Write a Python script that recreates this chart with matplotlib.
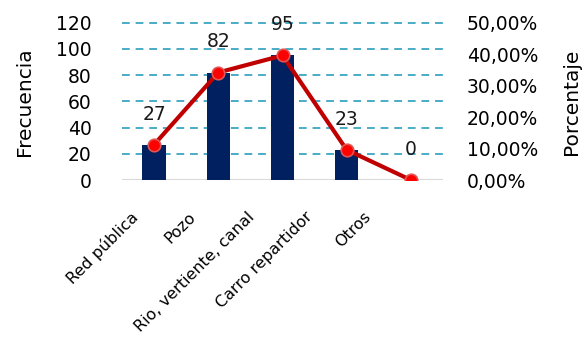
import matplotlib.pyplot as plt
import matplotlib.transforms as mtransforms
import numpy as np

categorias = ["Red pública", "Pozo", "Rio, vertiente, canal", "Carro repartidor", "Otros"]
frecuencia = [27, 82, 95, 23, 0]
porcentaje = [11.25, 34.17, 39.58, 9.58, 0.00]
ticks_frec = [0, 20, 40, 60, 80, 100, 120]
ticks_pct = [0, 10, 20, 30, 40, 50]

plt.rcParams["font.family"] = "DejaVu Sans"

fig = plt.figure(figsize=(5.85, 3.39), dpi=100)
ax = fig.add_axes([122 / 585, 1 - 180 / 339, (443 - 122) / 585, (180 - 22.7) / 339])
ax2 = ax.twinx()

x = np.arange(len(categorias))

# grid lines behind the bars
for t in ticks_frec[1:]:
    ax.axhline(t, color="#4BACC6", linestyle=(0, (4, 3)), linewidth=1.4, zorder=0,
               clip_on=False)
ax.axhline(0, color="#D9D9D9", linewidth=1.5, zorder=1)

ax.bar(x, frecuencia, width=0.365, color="#002060", zorder=2)
for xi, v in zip(x, frecuencia):
    ax.annotate(f"{v}", xy=(xi, v), xytext=(0, 22), textcoords="offset points",
                ha="center", va="center", fontsize=13.5, color="#1a1a1a")

ax2.plot(x, porcentaje, color="#C00000", linewidth=3, marker="o", markersize=9,
         markerfacecolor="#FF0000", markeredgecolor="#E05555", markeredgewidth=1.2,
         zorder=3)

ax.set_xlim(-0.5, 4.5)
ax.set_ylim(0, 120)
ax2.set_ylim(0, 50)
ax.set_yticks(ticks_frec)
ax.set_yticklabels([str(t) for t in ticks_frec], fontsize=13.5)
ax2.set_yticks(ticks_pct)
ax2.set_yticklabels([f"{t},00%" for t in ticks_pct], fontsize=13.5)

ax.set_xticks(x)
ax.set_xticklabels(categorias, rotation=45, ha="right", va="top",
                   rotation_mode="anchor", fontsize=11.5)
ax.tick_params(axis="x", length=0, pad=0)
# slanted labels: ends drift further left of their category, slightly tighter spacing
for i, lbl in enumerate(ax.get_xticklabels()):
    shift = mtransforms.ScaledTranslation((-24 - 6 * i) / 100, -29 / 100,
                                          fig.dpi_scale_trans)
    lbl.set_transform(lbl.get_transform() + shift)
ax.tick_params(axis="y", length=0, pad=22)
ax2.tick_params(axis="y", length=0, pad=17)

ax.set_ylabel("Frecuencia", fontsize=14.5, labelpad=16)
ax2.set_ylabel("Porcentaje", fontsize=14.5, labelpad=17)

for a in (ax, ax2):
    for s in a.spines.values():
        s.set_visible(False)

ax2.set_zorder(ax.get_zorder() + 1)
ax2.patch.set_visible(False)

fig.savefig("out.png", dpi=100)
